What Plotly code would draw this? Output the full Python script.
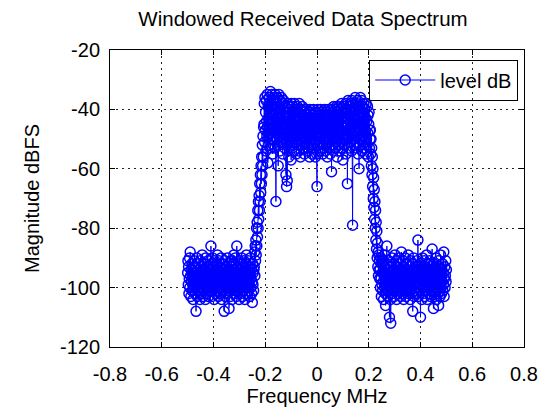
import numpy as np
import plotly.graph_objects as go

# ---- data ----
FREQ_START = -0.5   # MHz
FREQ_STOP = 0.5     # MHz

noise_left = [
    -95, -91, -99, -93, -102, -97, -90, -100, -88, -96,
    -103, -94, -98, -92, -101, -96, -99, -104, -93, -97,
    -91, -100, -95, -102, -98, -93, -108, -96, -90, -99,
    -97, -103, -94, -100, -92, -98, -101, -95, -104, -91,
    -99, -96, -93, -102, -97, -89, -100, -94, -103, -98,
    -92, -101, -96, -99, -94, -104, -90, -97, -100, -93,
    -102, -95, -98, -91, -103, -96, -99, -93, -101, -97,
    -94, -100, -86, -98, -92, -103, -96, -90, -101, -95,
    -99, -93, -104, -97, -91, -100, -95, -102, -98, -92,
    -96, -101, -89, -99, -94, -103, -97, -91, -100, -95,
    -102, -93, -98, -96, -90, -104, -97, -100, -92, -99,
    -95, -101, -94, -108, -97, -91, -103, -96, -99, -93,
    -100, -95, -102, -90, -98, -94, -101, -97, -107, -92,
    -99, -96, -103, -93, -100, -91, -97, -104, -95, -98,
    -92, -101, -96, -89, -99, -94, -102, -97, -90, -100,
    -95, -103, -86, -98, -93, -101, -96, -99, -91, -104,
    -97, -94, -100, -92, -98, -102, -95, -90, -99, -96,
    -103, -93, -97, -101, -91, -99, -95, -104, -98, -92,
    -100, -96, -89, -102, -94, -98, -97, -91, -101, -95,
    -99, -93, -103, -96, -90, -100, -97, -94, -102, -98,
    -105, -92, -99, -95, -101, -94,
]

edge_left = [
    -93, -88, -96, -86, -91, -84, -89, -80, -86, -78,
    -83, -74, -80, -71, -77, -69, -74, -65, -71, -62,
    -68, -59, -65, -56, -62, -52, -59, -49, -56, -46,
]

passband = [
    -45, -38, -51, -36, -47, -41, -54, -37, -44, -49,
    -35, -46, -58, -39, -43, -52, -36, -48, -41, -53,
    -34, -45, -39, -50, -35, -47, -42, -55, -37, -44,
    -49, -36, -46, -40, -53, -35, -48, -71, -50, -38,
    -44, -52, -36, -47, -59, -41, -35, -49, -43, -54,
    -37, -46, -40, -51, -36, -45, -48, -38, -55, -42,
    -47, -37, -50, -43, -53, -39, -46, -41, -62, -44,
    -66, -48, -64, -38, -51, -43, -47, -56, -39, -45,
    -52, -40, -49, -44, -57, -38, -47, -42, -53, -39,
    -50, -45, -41, -54, -38, -48, -43, -51, -40, -46,
    -55, -42, -47, -39, -52, -44, -49, -41, -54, -38,
    -46, -50, -43, -56, -40, -48, -45, -52, -39, -47,
    -42, -53, -44, -49, -40, -55, -46, -41, -51, -43,
    -48, -40, -54, -45, -50, -42, -47, -53, -41, -49,
    -44, -56, -40, -51, -46, -43, -52, -41, -48, -55,
    -42, -50, -45, -40, -53, -47, -44, -51, -41, -56,
    -46, -43, -49, -55, -66, -42, -48, -40, -52, -45,
    -50, -41, -54, -46, -43, -51, -40, -48, -53, -44,
    -47, -41, -55, -45, -50, -42, -52, -46, -40, -49,
    -54, -43, -47, -41, -51, -45, -56, -42, -48, -40,
    -50, -44, -53, -41, -47, -55, -43, -49, -40, -61,
    -45, -52, -41, -48, -44, -54, -39, -50, -46, -42,
    -53, -40, -47, -43, -51, -39, -56, -45, -41, -49,
    -44, -52, -39, -47, -42, -54, -40, -48, -45, -51,
    -38, -46, -53, -41, -57, -44, -39, -50, -43, -48,
    -52, -40, -46, -38, -55, -43, -49, -41, -65, -45,
    -37, -50, -42, -47, -53, -39, -44, -51, -38, -46,
    -41, -54, -37, -48, -79, -43, -50, -38, -45, -52,
    -40, -47, -36, -53, -44, -49, -38, -51, -42, -46,
    -37, -55, -43, -48, -60, -39, -45, -52, -36, -47,
    -41, -50, -37, -54, -44, -39, -49, -42, -53, -38,
    -46, -51, -40, -47, -55, -43, -38, -50, -44, -52,
    -39, -48, -42, -56, -45, -41, -53, -47, -50,
]

edge_right = [
    -47, -55, -50, -59, -53, -62, -56, -66, -60, -70,
    -63, -73, -67, -77, -71, -80, -74, -84, -78, -87,
    -81, -90, -85, -93, -88, -96, -89, -94, -91, -97,
]

noise_right = [
    -94, -100, -90, -97, -103, -92, -99, -95, -101, -91,
    -98, -104, -93, -96, -100, -89, -102, -106, -95, -99,
    -92, -86, -101, -97, -103, -94, -98, -91, -100, -110,
    -96, -93, -104, -112, -99, -95, -101, -90, -97, -102,
    -94, -100, -92, -98, -103, -96, -89, -101, -95, -99,
    -91, -104, -97, -93, -100, -96, -102, -90, -98, -94,
    -101, -95, -99, -92, -103, -97, -88, -100, -94, -102,
    -96, -91, -99, -104, -93, -98, -95, -101, -90, -97,
    -103, -94, -100, -92, -98, -96, -102, -89, -99, -95,
    -101, -93, -97, -104, -91, -100, -96, -94, -102, -98,
    -92, -108, -95, -99, -90, -103, -97, -101, -94, -96,
    -100, -93, -98, -102, -91, -97, -95, -84, -103, -99,
    -94, -100, -96, -92, -101, -110, -97, -93, -99, -104,
    -95, -90, -98, -102, -94, -100, -96, -91, -103, -97,
    -99, -93, -101, -95, -89, -98, -104, -96, -92, -100,
    -97, -94, -102, -91, -99, -95, -103, -93, -98, -101,
    -96, -87, -100, -94, -97, -107, -92, -99, -103, -95,
    -101, -93, -98, -90, -104, -96, -100, -94, -97, -102,
    -91, -106, -95, -99, -93, -103, -97, -89, -100, -96,
    -102, -94, -98, -92, -101, -95, -99, -88, -103, -97,
    -93, -100, -96, -91, -98, -94,
]

x_tickvals = [-0.8, -0.6, -0.4, -0.2, 0, 0.2, 0.4, 0.6, 0.8]
x_ticktext = ["-0.8", "-0.6", "-0.4", "-0.2", "0", "0.2", "0.4", "0.6", "0.8"]
y_tickvals = [-120, -100, -80, -60, -40, -20]
y_ticktext = ["-120", "-100", "-80", "-60", "-40", "-20"]

level_db = noise_left + edge_left + passband + edge_right + noise_right
freq = np.linspace(FREQ_START, FREQ_STOP, len(level_db))

FONT = "Liberation Sans, Arial, Helvetica, sans-serif"

fig = go.Figure()
fig.add_trace(go.Scatter(
    x=freq, y=level_db, mode="lines+markers", name="level dB",
    line=dict(color="#0000ff", width=1),
    marker=dict(symbol="circle-open", size=10, color="#0000ff", line=dict(width=1.5)),
))

axis_common = dict(
    showline=True, linecolor="black", linewidth=1, mirror="ticks",
    ticks="inside", ticklen=5, tickcolor="black", tickwidth=1,
    showgrid=True, gridcolor="#222222", gridwidth=1, griddash="2px,4px",
    zeroline=False, automargin=False,
    tickfont=dict(family=FONT, size=20, color="black"),
)

fig.update_layout(
    width=559, height=411,
    margin=dict(l=110, r=35, t=50, b=64),
    paper_bgcolor="white", plot_bgcolor="white",
    font=dict(family=FONT, size=20, color="black"),
    title=dict(text="Windowed Received Data Spectrum", x=303 / 559, xref="container",
               xanchor="center", y=1 - 19 / 411, yref="container", yanchor="middle",
               font=dict(family=FONT, size=20.5, color="black")),
    xaxis=dict(range=[-0.8, 0.8], tickvals=x_tickvals, ticktext=x_ticktext,
               ticklabelstandoff=9,
               title=dict(text="Frequency MHz", standoff=2,
                          font=dict(family=FONT, size=20, color="black")),
               **axis_common),
    yaxis=dict(range=[-120, -20], tickvals=y_tickvals, ticktext=y_ticktext,
               ticklabelstandoff=5,
               title=dict(text="Magnitude dBFS", standoff=14,
                          font=dict(family=FONT, size=20, color="black")),
               **axis_common),
    showlegend=True,
    legend=dict(x=0.986, y=0.968, xanchor="right", yanchor="top",
                bgcolor="rgba(0,0,0,0)", bordercolor="black", borderwidth=1,
                font=dict(family=FONT, size=20, color="black"),
                itemwidth=60, tracegroupgap=0),
)

fig.write_html("out.html", config={"displayModeBar": False, "staticPlot": True},
               post_script="document.body.style.margin='0px';")
